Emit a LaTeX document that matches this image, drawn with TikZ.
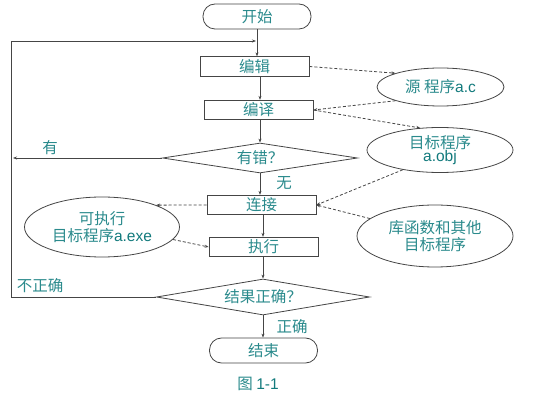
\documentclass[tikz,border=0pt]{standalone}
\usepackage{fontspec}
\usepackage{tikz}
\usetikzlibrary{shapes.geometric, arrows.meta, positioning}
\newfontfamily\cjk{Noto Sans CJK SC}
\newfontfamily\lat{Liberation Sans}
\definecolor{txtteal}{HTML}{2A8A8C}
\definecolor{latteal}{HTML}{127A7C}
\definecolor{lineg}{HTML}{454545}
\newcommand{\latin}[1]{{\lat\color{latteal}#1}}

\begin{document}
\begin{tikzpicture}[
  x=1pt, y=-1pt,
  every node/.style={text=txtteal, font=\cjk\fontsize{15.5}{17}\selectfont},
  terminal/.style={draw=lineg, line width=0.8pt, rounded corners=12pt, minimum width=108pt, minimum height=25pt, inner sep=0pt},
  procbox/.style={draw=lineg, line width=0.8pt, minimum width=109pt, minimum height=19.5pt, inner sep=0pt},
  decide/.style={draw=lineg, line width=0.8pt, diamond, aspect=6, inner sep=0pt},
  datafile/.style={draw=lineg, line width=0.8pt, ellipse, inner sep=0pt, align=center},
  flow/.style={draw=lineg, line width=0.8pt, -{Stealth[length=4pt, width=3pt]}},
  dashflow/.style={flow, dashed, dash pattern=on 3pt off 2pt},
]
  \useasboundingbox (0,0) rectangle (554,403);

  \node[terminal] (start) at (257, 16.5) {开始};
  \node[procbox] (edit) at (254.5, 66.5) {编辑};
  \node[procbox] (compile) at (258.5, 110) {编译};
  \node[decide, minimum width=195pt, minimum height=30pt] (err) at (260, 158) {有错？};
  \node[procbox] (link) at (261.5, 205) {连接};
  \node[procbox] (run) at (263.5, 247) {执行};
  \node[decide, minimum width=213pt, minimum height=36pt] (check) at (263, 297) {结果正确？};
  \node[terminal] (stop) at (263.5, 350.5) {结束};

  \node[datafile, minimum width=127pt, minimum height=38pt] (src) at (440.5, 87) {源 程序\latin{a.c}};
  \node[datafile, minimum width=146pt, minimum height=45pt] (obj) at (440, 150) {目标程序\\[-4pt]\latin{a.obj}};
  \node[datafile, minimum width=156pt, minimum height=62pt] (lib) at (435, 236) {库函数和其他\\目标程序};
  \node[datafile, minimum width=155pt, minimum height=60pt] (exe) at (102, 227) {可执行\\目标程序\latin{a.exe}};

  % main flow
  \coordinate (loopin) at (256, 41);
  \coordinate (lft) at (11, 41);
  \coordinate (errout) at (13, 158);
  \draw[flow] (start.south) -- (start.south |- edit.north);
  \draw[flow] (260, 0 |- edit.south) -- (260, 0 |- compile.north);
  \draw[flow] (compile.south -| err.north) -- (err.north);
  \draw[flow] (err.south) -- (err.south |- link.north);
  \draw[flow] (263, 0 |- link.south) -- (263, 0 |- run.north);
  \draw[flow] (check.north |- run.south) -- (check.north);
  \draw[flow] (check.south) -- (check.south |- stop.north);
  \draw[flow] (err.west) -- (errout);
  \draw[flow] (check.west) -| (lft) -- (loopin);

  % files
  \draw[dashflow] (edit.east) -- (src.163);
  \draw[dashflow] (src.197) -- (compile.east);
  \draw[dashflow] (compile.east) -- (obj.132);
  \draw[dashflow] (obj.208) -- (link.east);
  \draw[dashflow] (lib.165) -- (link.east);
  \draw[dashflow] (link.west) -- (exe.22);
  \draw[dashflow] (exe.-10) -- (run.west);

  % labels
  \node (yes) at (50, 148) {有};
  \node (no) at (284, 183) {无};
  \node (wrong) at (40, 286) {不正确};
  \node (right) at (292, 327) {正确};
  \node (caption) at (258, 384) {图 \latin{1-1}};
\end{tikzpicture}
\end{document}
